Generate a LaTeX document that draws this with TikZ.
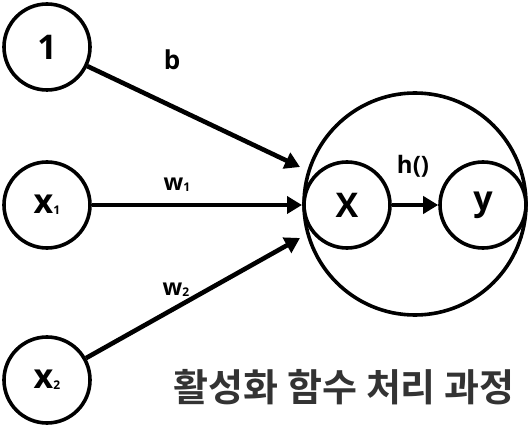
\documentclass[tikz,border=0pt]{standalone}
\usepackage{fontspec}
\setmainfont{Open Sans}
\newfontfamily\kr{Noto Sans CJK KR}[BoldFont={* Bold}]
\usetikzlibrary{arrows.meta}
\begin{document}
\begin{tikzpicture}[x=1pt,y=-1pt,
  unit/.style={circle,draw=black,line width=3.6pt,minimum size=86pt,inner sep=0pt,font=\bfseries\fontsize{34}{36}\selectfont},
  conn/.style={line width=4.6pt,-{Triangle[length=15pt,width=17pt]}},
  wlab/.style={font=\bfseries\fontsize{23}{26}\selectfont}]
\useasboundingbox (0,0) rectangle (529,427);
\node[circle,draw=black,line width=3.6pt,minimum size=222pt,inner sep=0pt] (big) at (415,204) {};
\node[unit] (one) at (47,47) {1};
\node[unit] (x1) at (47,205) {x{\fontsize{12}{12}\selectfont\raisebox{-1pt}{1}}};
\node[unit] (x2) at (47,380) {x{\fontsize{12}{12}\selectfont\raisebox{-1pt}{2}}};
\node[unit] (X) at (347,205) {X};
\node[unit] (y) at (483,205) {y};
\coordinate (t1) at (300,167);
\coordinate (t2) at (302,205);
\coordinate (t3) at (300,238);
\draw[conn] (one) -- (t1);
\draw[conn] (x1) -- (t2);
\draw[conn] (x2) -- (t3);
\draw[conn,line width=4pt] (X) -- (y);
\node[wlab,font=\bfseries\fontsize{26}{28}\selectfont] (lb) at (172,60) {b};
\node[wlab] (lw1) at (177,185) {w{\fontsize{12}{12}\selectfont\raisebox{-1pt}{1}}};
\node[wlab] (lw2) at (176,290) {w{\fontsize{12}{12}\selectfont\raisebox{-1pt}{2}}};
\node[font=\bfseries\fontsize{24}{26}\selectfont] (lh) at (413,166) {h()};
\node[font=\kr\bfseries\fontsize{38}{40}\selectfont,text=black!80,anchor=east] (title) at (518,387) {활성화 함수 처리 과정};
\end{tikzpicture}
\end{document}
